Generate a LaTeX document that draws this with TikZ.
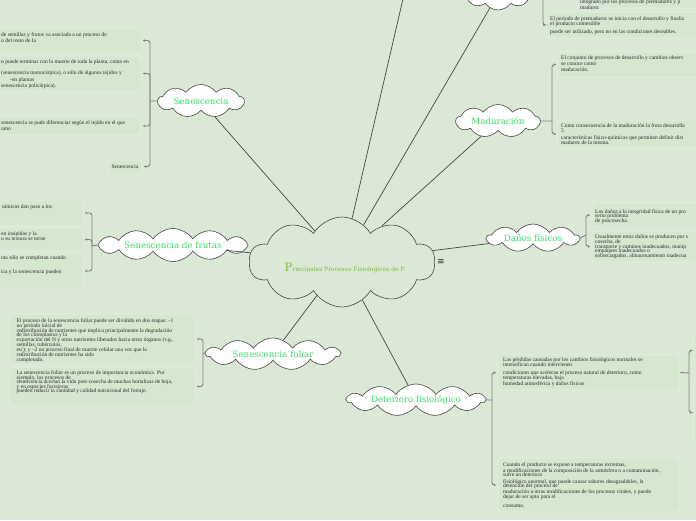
\documentclass[tikz,border=0pt]{standalone}
\usepackage{fontspec}
\setmainfont{Liberation Serif}
\newfontfamily\slabfont{DejaVu Serif}
\newfontfamily\symfont{DejaVu Sans}
\usetikzlibrary{shapes.symbols,arrows.meta}
\definecolor{mapBack}{RGB}{220,232,214}
\definecolor{boxFill}{RGB}{214,231,208}
\definecolor{boxEdge}{RGB}{230,240,226}
\definecolor{ideaGreen}{RGB}{58,222,104}
\definecolor{titleGreen}{RGB}{120,190,55}
\definecolor{lineGray}{RGB}{70,70,70}
\definecolor{brkGray}{RGB}{128,128,128}
\definecolor{noteInk}{RGB}{40,40,40}
\newcommand\notefont[1]{\fontsize{5.5}{#1}\selectfont\lineskiplimit-5pt\relax}

\tikzset{
  idea/.style={cloud,cloud puffs=9,cloud puff arc=110,cloud ignores aspect,draw=lineGray,fill=white,line width=0.6pt,inner sep=0pt,font=\slabfont\fontsize{8.7}{9}\selectfont,text=ideaGreen},
  notebox/.style={draw=boxEdge,fill=boxFill,rounded corners=3pt,line width=0.8pt,inner sep=0pt},
  notetext/.style={anchor=north west,inner sep=0pt,align=left,font=\notefont{5},text=noteInk},
  link/.style={draw=lineGray,line width=0.7pt},
  branch/.style={draw=brkGray,line width=0.9pt,rounded corners=2.5pt},
  pointer/.style={branch,-{Stealth[length=2.2pt,width=2.4pt]},shorten >=1.5pt}
}

\begin{document}
\begin{tikzpicture}[x=1pt,y=-1pt]
\useasboundingbox (0,0) rectangle (696,520);
\fill[mapBack] (0,0) rectangle (696,520);
\clip (0,0) rectangle (696,520);

% ideas
\node[idea,cloud puffs=10,cloud puff arc=120,fill=mapBack,minimum width=186,minimum height=90] (principal) at (342,262) {};
\node[font=\slabfont\fontsize{6}{6}\selectfont,text=titleGreen] (titulo) at (345,268) {{\fontsize{11.5}{11.5}\selectfont P}rincipales Procesos Fisiologicos de P.};
\node[font=\symfont\fontsize{9}{9}\selectfont,text=noteInk] (menu) at (441,262) {≡};
\node[idea,minimum width=86,minimum height=33] (senesc) at (201,101) {Senescencia};
\node[idea,cloud puffs=12,minimum width=150,minimum height=33] (frutas) at (173,245) {Senescencia de frutas};
\node[idea,cloud puffs=11,minimum width=134,minimum height=32] (foliar) at (273,354) {Senescencia foliar};
\node[idea,cloud puffs=11,minimum width=138,minimum height=32] (deterioro) at (416,400) {Deterioro fisiológico};
\node[idea,minimum width=92,minimum height=28] (danos) at (533,238) {Daños físicos};
\node[idea,minimum width=84,minimum height=33] (maduracion) at (498,121) {Maduración};
\node[idea,cloud puffs=8,minimum width=66,minimum height=32] (premad) at (498,-6) {};
\coordinate (arriba) at (412,-40);

\draw[link] (principal) -- (senesc);
\draw[link] (principal) -- (frutas);
\draw[link] (principal) -- (foliar);
\draw[link] (principal) -- (deterioro);
\draw[link] (principal) -- (danos);
\draw[link] (principal) -- (maduracion);
\draw[link] (principal) -- (premad);
\draw[link] (principal) -- (arriba);

% Senescencia
\node[notebox,minimum width=161,minimum height=25] (sbox1) at (60.5,40.5) {};
\node[notebox,minimum width=161,minimum height=35] (sbox2) at (60.5,73.5) {};
\node[notebox,minimum width=161,minimum height=18] (sbox3) at (60.5,126) {};
\node[notebox,minimum width=34,minimum height=13,font=\notefont{5},text=noteInk] (sbox4) at (125,166.5) {Senescencia};
\node[notetext] (stxt1) at (1,32.5) {de semillas y frutos va asociada a un proceso de\\[1pt]o del resto de la};
\node[notetext] (stxt2) at (1,59.5) {n puede terminar con la muerte de toda la planta, como en\\[6pt](senescencia monocárpica), o sólo de algunos tejidos y\\[1.5pt]\hspace*{9pt}-en plantas\\[1pt]senescencia policárpica).};
\node[notetext] (stxt3) at (1,120.5) {senescencia se pude diferenciar según el tejido en el que\\[1pt]omo};
\coordinate (sbr) at (150,101);
\draw[branch] (senesc.west) -- (sbr);
\draw[pointer] (sbr) |- (sbox1.east);
\draw[pointer] (sbr) |- (sbox2.east);
\draw[pointer] (sbr) |- (sbox3.east);
\draw[pointer] (sbr) |- (sbox4.east);

% Senescencia de frutas
\node[notebox,minimum width=103,minimum height=26] (fbox1) at (31.5,213) {};
\node[notebox,minimum width=103,minimum height=23] (fbox2) at (31.5,239.5) {};
\node[notebox,minimum width=103,minimum height=34] (fbox3) at (31.5,271) {};
\node[notetext] (ftxt1) at (2,204.5) {uímicos dan paso a los};
\node[notetext] (ftxt2) at (1,231.5) {en insípidas y la\\o su textura se torne};
\node[notetext] (ftxt3) at (1,255.5) {uta sólo se completan cuando\\[9pt]ica y la senescencia pueden};
\coordinate (fbr) at (92,246);
\draw[branch] (frutas.west) -- (fbr);
\draw[pointer] (fbr) |- (fbox1.east);
\draw[pointer] (fbr) |- (fbox2.east);
\draw[pointer] (fbr) |- (fbox3.east);

% Senescencia foliar
\node[notebox,minimum width=185,minimum height=50] (lbox1) at (102.5,339) {};
\node[notebox,minimum width=185,minimum height=39] (lbox2) at (102.5,386.5) {};
\node[notetext,font=\notefont{4.9}] (ltxt1) at (16.5,318.2) {El proceso de la senescencia foliar puede ser dividido en dos etapas: -1\\un periodo inicial de\\redistribución de nutrientes que implica principalmente la degradación\\de los cloroplastos y la\\exportación del N y otros nutrientes liberados hacia otros órganos (v.g.,\\semillas, tubérculos,\\etc); y –2 un proceso final de muerte celular una vez que la\\redistribución de nutrientes ha sido\\completada.};
\node[notetext,font=\notefont{4.6}] (ltxt2) at (16.5,370.5) {La senescencia foliar es un proceso de importancia económica. Por\\ejemplo, los procesos de\\senescencia acortan la vida post-cosecha de muchas hortalizas de hoja,\\y en especies forrajeras\\pueden reducir la cantidad y calidad nutricional del forraje.};
\coordinate (lbr) at (203,353);
\draw[branch] (foliar.west) -- (lbr);
\draw[pointer] (lbr) |- (lbox1.east);
\draw[pointer] (lbr) |- (lbox2.east);

% Maduracion
\node[notebox,minimum width=162,minimum height=25] (mbox1) at (639,64.5) {};
\node[notebox,minimum width=162,minimum height=28] (mbox2) at (639,134) {};
\node[notetext] (mtxt1) at (561,55.5) {El conjunto de procesos de desarrollo y cambios observ\\[1pt]se conoce como\\[1pt]maduración.};
\node[notetext] (mtxt2) at (561,123.5) {Como consecuencia de la maduración la fruta desarrolla\\5\\[2pt]características físico-químicas que permiten definir dist\\madurez de la misma.};
\coordinate (mbr) at (552,121);
\draw[branch] (maduracion.east) -- (mbr);
\draw[pointer] (mbr) |- (mbox1.west);
\draw[pointer] (mbr) |- (mbox2.west);

% Danos fisicos
\node[notebox,minimum width=128,minimum height=24] (dbox1) at (656,215) {};
\node[notebox,minimum width=128,minimum height=31] (dbox2) at (656,246.5) {};
\node[notetext] (dtxt1) at (595,209.2) {Los daños a la integridad física de un pro\\[-1pt]serio problema\\de poscosecha.};
\node[notetext] (dtxt2) at (595,234.5) {Usualmente estos daños se producen por s\\cosecha, de\\transporte y caminos inadecuados, manip\\[-1pt]empaques inadecuados o\\sobrecargados, almacenamiento inadecua};
\coordinate (dbr) at (586,235);
\draw[branch] (danos.east) -- (dbr);
\draw[pointer] (dbr) |- (dbox1.west);
\draw[pointer] (dbr) |- (dbox2.west);

% Deterioro fisiologico
\node[notebox,minimum width=182,minimum height=35] (tbox1) at (589,372.5) {};
\node[notebox,minimum width=181,minimum height=54] (tbox2) at (588.5,485) {};
\node[notetext] (ttxt1) at (503,357.5) {Las pérdidas causadas por los cambios fisiológicos normales se\\intensifican cuando intervienen\\[3pt]condiciones que aceleran el proceso natural de deterioro, como\\temperaturas elevadas, baja\\[1pt]humedad atmosférica y daños físicos};
\node[notetext] (ttxt2) at (503,462) {Cuando el producto se expone a temperaturas extremas,\\[1pt]a modificaciones de la composición de la atmósfera o a contaminación,\\[-1pt]sufre un deterioro\\[2.5pt]fisiológico anormal, que puede causar sabores desagradables, la\\[-1pt]detención del proceso de\\[1pt]maduración u otras modificaciones de los procesos vitales, y puede\\dejar de ser apto para el\\[3.5pt]consumo.};
\coordinate (tbr) at (492,400);
\draw[branch] (deterioro.east) -- (tbr);
\draw[pointer] (tbr) |- (tbox1.west);
\draw[pointer] (tbr) |- (tbox2.west);
\node[notebox,minimum width=36,minimum height=35] (xbox1) at (712,350.5) {};
\node[notebox,minimum width=36,minimum height=65] (xbox2) at (712,412.5) {};
\coordinate (xbr) at (689,373);
\draw[branch] (tbox1.east) -- (xbr);
\draw[pointer] (xbr) |- (xbox1.west);
\draw[pointer] (xbr) |- (xbox2.west);

% premadurez (arriba)
\node[notebox,minimum width=143,minimum height=28] (pbox1) at (648.5,-6) {};
\node[notebox,minimum width=173,minimum height=26] (pbox2) at (633.5,25) {};
\node[notetext] (ptxt1) at (580,-1) {integrado por los procesos de premadurez y p\\[1.5pt]madurez};
\node[notetext] (ptxt2) at (550,16.5) {El periodo de premadurez se inicia con el desarrollo y finaliz\\el producto comestible\\[3pt]puede ser utilizado, pero no en las condiciones deseables.};
\coordinate (pbr) at (543,-6);
\draw[branch] (premad.east) -- (pbr);
\draw[pointer] (pbr) |- (pbox1.west);
\draw[pointer] (pbr) |- (pbox2.west);
\end{tikzpicture}
\end{document}
